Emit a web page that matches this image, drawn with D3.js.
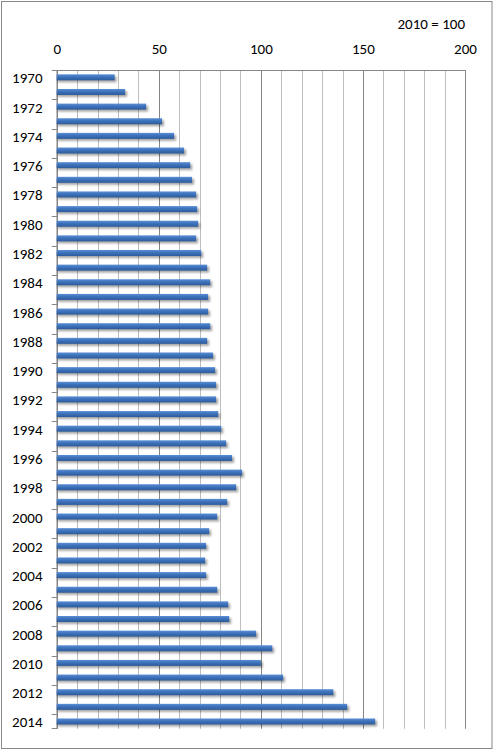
<!DOCTYPE html>
<html><head><meta charset="utf-8">
<script src="https://cdn.jsdelivr.net/npm/d3@7"></script>
<style>
html,body{margin:0;padding:0;background:#fff;}
svg{display:block;}
text{font-family:Carlito,Calibri,Lato,"Open Sans",sans-serif;fill:#000;}
</style></head>
<body>
<script>
const years = d3.range(1970, 2015);
const values = [28.4, 33.5, 43.8, 51.6, 57.5, 62.4, 65.4, 66.3, 68.3, 68.8,
  69.3, 68.3, 70.8, 73.7, 75.2, 74.2, 74.2, 75.2, 73.7, 76.6,
  77.6, 78.1, 78.1, 79.1, 80.6, 83.0, 85.9, 90.8, 87.9, 83.5,
  78.6, 74.7, 73.2, 72.7, 73.2, 78.6, 84.0, 84.5, 97.7, 105.6,
  100.0, 110.9, 135.5, 142.3, 156.0];
const xTicks = [0, 50, 100, 150, 200];
const unitLabel = "2010 = 100";

const W = 494, H = 751;
const svg = d3.select("body").append("svg").attr("width", W).attr("height", H);

const defs = svg.append("defs");
const grad = defs.append("linearGradient").attr("id", "barGrad")
  .attr("x1", 0).attr("y1", 0).attr("x2", 0).attr("y2", 1);
grad.append("stop").attr("offset", "0%").attr("stop-color", "#5a8fd6");
grad.append("stop").attr("offset", "45%").attr("stop-color", "#3d72bb");
grad.append("stop").attr("offset", "100%").attr("stop-color", "#2c5b9b");
const flt = defs.append("filter").attr("id", "shadow").attr("x", "-5%").attr("y", "-50%").attr("width", "110%").attr("height", "250%");
flt.append("feGaussianBlur").attr("stdDeviation", 1.2);

// outer border
svg.append("rect").attr("x", 1.5).attr("y", 1.5).attr("width", W - 3.5).attr("height", H - 4)
  .attr("fill", "#fff").attr("stroke", "#888").attr("stroke-width", 1);

const x = d3.scaleLinear().domain([0, 200]).range([56.7, 465]);
const y = d3.scaleBand().domain(years).range([70, 728.8]).padding(0);

// gridlines every 10
const grid = d3.range(0, 201, 10);
svg.append("g").selectAll("line").data(grid).join("line")
  .attr("x1", d => Math.round(x(d)) + 0.5).attr("x2", d => Math.round(x(d)) + 0.5)
  .attr("y1", 70).attr("y2", 728.8)
  .attr("stroke", d => d % 50 === 0 ? "#868686" : "#bebebe")
  .attr("stroke-width", 1);

// top axis
const xAxis = d3.axisTop(x).tickValues(xTicks).tickSize(0).tickPadding(16);
const gx = svg.append("g").attr("transform", "translate(0,70)").call(xAxis);
gx.select(".domain").remove();
gx.selectAll("text").style("font-size", "15px").attr("fill", "#000").attr("dy", 0);
svg.append("line").attr("x1", 51.7).attr("x2", x(200)).attr("y1", 70.5).attr("y2", 70.5)
  .attr("stroke", "#868686");

// left axis line and ticks every 2 categories
svg.append("line").attr("x1", 57).attr("x2", 57).attr("y1", 70).attr("y2", 728.8).attr("stroke", "#868686");
const tickYears = years.filter((d, i) => i % 2 === 0);
svg.append("g").selectAll("line").data(tickYears.slice(1)).join("line")
  .attr("x1", 51.7).attr("x2", 57)
  .attr("y1", d => Math.round(y(d)) + 0.5).attr("y2", d => Math.round(y(d)) + 0.5)
  .attr("stroke", "#868686");
svg.append("line").attr("x1", 51.7).attr("x2", 57).attr("y1", 728.5).attr("y2", 728.5).attr("stroke", "#868686");

// labels
svg.append("g").selectAll("text").data(tickYears).join("text")
  .attr("x", 42.5).attr("y", d => y(d) + y.bandwidth() / 2 + 6)
  .attr("text-anchor", "end")
  .style("font-size", "15px").text(d => d);

svg.append("text").attr("x", 465).attr("y", 29.3).attr("text-anchor", "end")
  .style("font-size", "15px").text(unitLabel);

// bars
const data = years.map((yr, i) => ({ yr, v: values[i] }));
const bh = 6;
const bars = svg.append("g");
bars.selectAll("rect.sh").data(data).join("rect").attr("class", "sh")
  .attr("x", x(0) + 1).attr("y", d => y(d.yr) + y.bandwidth() / 2 - bh / 2 + 2)
  .attr("width", d => x(d.v) - x(0) + 1).attr("height", bh)
  .attr("fill", "#000").attr("opacity", 0.35).attr("filter", "url(#shadow)");
bars.selectAll("rect.bar").data(data).join("rect").attr("class", "bar")
  .attr("x", x(0)).attr("y", d => y(d.yr) + y.bandwidth() / 2 - bh / 2)
  .attr("width", d => x(d.v) - x(0)).attr("height", bh)
  .attr("fill", "url(#barGrad)");
</script>
</body></html>
